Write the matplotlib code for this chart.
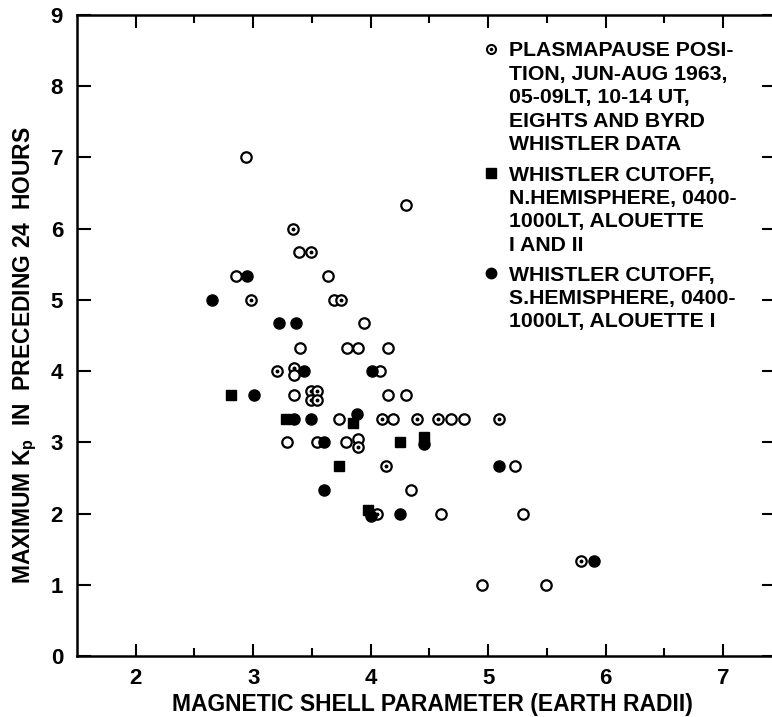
import matplotlib
matplotlib.use("Agg")
import matplotlib.pyplot as plt
from matplotlib.lines import Line2D

# plasmapause positions (Eights / Byrd whistlers); dotted = drawn with centre dot
pp_L = [2.94, 4.30, 3.34, 3.39, 3.49, 2.85, 3.64, 2.98, 3.69, 3.75, 3.94,
        3.40, 3.80, 3.89, 4.15, 3.20, 3.35, 3.35, 4.08, 3.35, 3.49, 3.54,
        3.49, 3.54, 4.15, 4.30, 3.73, 4.10, 4.19, 4.39, 4.57, 4.68, 4.79,
        5.09, 3.29, 3.54, 3.79, 3.89, 3.89, 4.13, 5.23, 4.34, 4.05, 4.60,
        5.30, 5.79, 4.95, 5.49]
pp_kp = [7.0, 6.33, 6.0, 5.67, 5.67, 5.33, 5.33, 5.0, 5.0, 5.0, 4.67,
         4.33, 4.33, 4.33, 4.33, 4.0, 4.05, 3.95, 4.0, 3.67, 3.72, 3.72,
         3.6, 3.6, 3.67, 3.67, 3.33, 3.33, 3.33, 3.33, 3.33, 3.33, 3.33,
         3.33, 3.0, 3.0, 3.0, 3.05, 2.93, 2.67, 2.67, 2.33, 2.0, 2.0,
         2.0, 1.33, 1.0, 1.0]
pp_dot = [0, 0, 1, 0, 1, 0, 0, 1, 0, 1, 0,
          0, 0, 0, 0, 1, 1, 0, 0, 0, 1, 1,
          1, 1, 0, 0, 0, 1, 0, 1, 1, 0, 0,
          1, 0, 0, 0, 0, 1, 1, 0, 0, 1, 0,
          0, 1, 0, 0]

# Alouette whistler cutoff, northern hemisphere (squares)
nh_L = [2.81, 3.28, 3.85, 4.25, 4.45, 3.73, 3.98]
nh_kp = [3.67, 3.33, 3.27, 3.0, 3.07, 2.67, 2.05]

# Alouette whistler cutoff, southern hemisphere (filled circles)
sh_L = [2.95, 2.65, 3.22, 3.36, 3.43, 4.01, 3.01, 3.35, 3.49, 3.88, 3.60,
        4.45, 5.09, 3.60, 4.00, 4.25, 5.90]
sh_kp = [5.33, 5.0, 4.67, 4.67, 4.0, 4.0, 3.67, 3.33, 3.33, 3.4, 3.0,
         2.97, 2.67, 2.33, 1.97, 2.0, 1.33]

legend_blocks = [
    ("PLASMAPAUSE POSI-\nTION, JUN-AUG 1963,\n05-09LT, 10-14 UT,\nEIGHTS AND BYRD\nWHISTLER DATA", "pp"),
    ("WHISTLER CUTOFF,\nN.HEMISPHERE, 0400-\n1000LT, ALOUETTE\nI AND II", "nh"),
    ("WHISTLER CUTOFF,\nS.HEMISPHERE, 0400-\n1000LT, ALOUETTE I", "sh"),
]

plt.rcParams["font.family"] = ["Liberation Sans", "DejaVu Sans"]
plt.rcParams["font.weight"] = "bold"
plt.rcParams["axes.labelweight"] = "bold"
plt.rcParams["mathtext.default"] = "regular"

W, H = 772, 717
fig = plt.figure(figsize=(W / 100, H / 100), dpi=100)
ax = fig.add_axes([77 / W, 61 / H, 699 / W, 641 / H])

ms = 7.5
ax.plot(pp_L, pp_kp, "o", ms=ms, mfc="white", mec="black", mew=1.6, ls="none")
dx = [l for l, d in zip(pp_L, pp_dot) if d]
dy = [k for k, d in zip(pp_kp, pp_dot) if d]
ax.plot(dx, dy, "o", ms=1.8, color="black", ls="none")
ax.plot(nh_L, nh_kp, "s", ms=7.5, color="black", ls="none")
ax.plot(sh_L, sh_kp, "o", ms=8, color="black", ls="none")

ax.set_xlim(1.5, 7.45)
ax.set_ylim(0, 9)
ax.set_xticks([2, 3, 4, 5, 6, 7])
ax.set_xticks([2.5, 3.5, 4.5, 5.5, 6.5], minor=True)
ax.set_yticks(range(10))
ax.tick_params(axis="x", which="major", direction="in", length=9, width=1.5,
               top=True, labelsize=16, pad=9)
ax.tick_params(axis="x", which="minor", direction="in", length=6, width=1.5, top=True)
ax.tick_params(axis="y", direction="in", length=10, width=1.5, right=True,
               labelsize=16, pad=10)
for s in ax.spines.values():
    s.set_linewidth(1.8)

ax.set_xlabel("MAGNETIC SHELL PARAMETER (EARTH RADII)", fontsize=16.5)
ax.xaxis.set_label_coords(0.509, -0.058)
ax.set_ylabel("MAXIMUM K$_p$  IN  PRECEDING 24  HOURS", fontsize=16.5)
ax.yaxis.set_label_coords(-0.054, 0.47)

# legend drawn by hand: marker + multi-line text blocks
line_step = 23.5
first_line = [49, 173, 273]
markers = {"pp": dict(marker="o", ms=6.5, mfc="white", mec="black", mew=1.5),
           "nh": dict(marker="s", ms=7, color="black"),
           "sh": dict(marker="o", ms=7.5, color="black")}
for (txt, key), y0 in zip(legend_blocks, first_line):
    fig.add_artist(Line2D([491 / W], [1 - y0 / H], ls="none",
                          transform=fig.transFigure, **markers[key]))
    if key == "pp":
        fig.add_artist(Line2D([491 / W], [1 - y0 / H], ls="none", marker="o",
                              ms=1.6, color="black", transform=fig.transFigure))
    for i, line in enumerate(txt.split("\n")):
        yc = y0 + i * line_step
        fig.text(509 / W, 1 - (yc + 7.5) / H, line, fontsize=15.3,
                 ha="left", va="baseline")

fig.savefig("out.png", dpi=100)
